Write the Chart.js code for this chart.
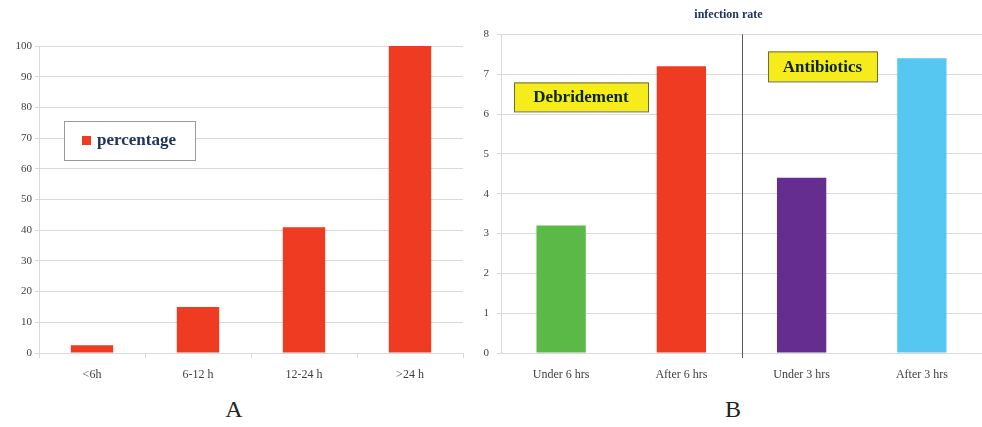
<!DOCTYPE html>
<html>
<head>
<meta charset="utf-8">
<script src="https://cdn.jsdelivr.net/npm/chart.js@4"></script>
<style>
  body { margin: 0; background: #fff; width: 982px; height: 427px; overflow: hidden; position: relative; }
  .box { position: absolute; top: 0; height: 390px; }
  #boxA { left: 0; width: 475px; }
  #boxB { left: 475px; width: 507px; }
  .panel { position: absolute; top: 396px; font: 24px 'Liberation Serif', serif; color: #222; transform: translateX(-50%); }
</style>
</head>
<body>
<div class="box" id="boxA"><canvas id="chartA"></canvas></div>
<div class="box" id="boxB"><canvas id="chartB"></canvas></div>
<div class="panel" style="left:234px">A</div>
<div class="panel" style="left:733px">B</div>
<script>
// panel A: infection percentage by delay
var delayLabels = ['<6h', '6-12 h', '12-24 h', '>24 h'];
var percentValues = [2.5, 15, 41, 100];

// panel B: infection rate by timing of debridement / antibiotics
var timingLabels = ['Under 6 hrs', 'After 6 hrs', 'Under 3 hrs', 'After 3 hrs'];
var rateValues = [3.2, 7.2, 4.4, 7.4];
var rateColors = ['#5bb947', '#ee3b22', '#652d90', '#56c7f1'];

var gridColor = '#d9d9d9';
var tickColor = '#404040';
Chart.defaults.font.family = "'Liberation Serif', serif";
Chart.defaults.color = tickColor;

// legend box drawn inside the plot of panel A
var legendBoxPlugin = {
    id: 'legendBox',
    afterDraw: function (chart) {
        var ctx = chart.ctx, a = chart.chartArea;
        var x = a.left + 25, y = a.top + 75;
        ctx.save();
        ctx.fillStyle = '#fff';
        ctx.fillRect(x, y, 131, 39);
        ctx.strokeStyle = '#9a9a9a';
        ctx.lineWidth = 1;
        ctx.strokeRect(x + 0.5, y + 0.5, 131, 39);
        ctx.fillStyle = chart.data.datasets[0].backgroundColor;
        ctx.fillRect(x + 18, y + 15, 9, 9);
        ctx.fillStyle = '#1f3360';
        ctx.font = "bold 17px 'Liberation Serif', serif";
        ctx.textBaseline = 'middle';
        ctx.fillText(chart.data.datasets[0].label, x + 33, y + 20);
        ctx.restore();
    }
};

// separator line and yellow group labels for panel B
var groupPlugin = {
    id: 'groups',
    afterDraw: function (chart) {
        var ctx = chart.ctx, a = chart.chartArea, xs = chart.scales.x;
        var sep = Math.round((xs.getPixelForValue(1) + xs.getPixelForValue(2)) / 2) + 0.5;
        ctx.save();
        ctx.strokeStyle = '#5a5a5a';
        ctx.lineWidth = 1;
        ctx.beginPath();
        ctx.moveTo(sep, a.top);
        ctx.lineTo(sep, a.bottom + 5);
        ctx.stroke();

        function tag(text, x, y, w, h) {
            ctx.fillStyle = '#f6ec1b';
            ctx.fillRect(x, y, w, h);
            ctx.strokeStyle = '#6b6a3a';
            ctx.strokeRect(x + 0.5, y + 0.5, w, h);
            ctx.fillStyle = '#0b2410';
            ctx.font = "bold 17px 'Liberation Serif', serif";
            ctx.textAlign = 'center';
            ctx.textBaseline = 'middle';
            ctx.fillText(text, x + w / 2, y + h / 2 + 1);
        }
        tag('Debridement', a.left + 13, a.top + 48, 134, 29);
        tag('Antibiotics', a.left + 267, a.top + 17, 109, 30);
        ctx.restore();
    }
};

new Chart(document.getElementById('chartA'), {
    type: 'bar',
    data: {
        labels: delayLabels,
        datasets: [{
            label: 'percentage',
            data: percentValues,
            backgroundColor: '#ee3b22',
            barPercentage: 0.4,
            categoryPercentage: 1
        }]
    },
    options: {
        responsive: true,
        maintainAspectRatio: false,
        animation: false,
        layout: { padding: { top: 46, right: 12, left: 0, bottom: 0 } },
        plugins: { legend: { display: false }, tooltip: { enabled: false } },
        scales: {
            x: {
                grid: { offset: true, drawOnChartArea: false, tickLength: 5, color: gridColor },
                border: { color: gridColor },
                ticks: { padding: 10, font: { size: 12 }, color: tickColor },
                afterFit: function (s) { s.height = 37; }
            },
            y: {
                min: 0, max: 100,
                ticks: { stepSize: 10, padding: 3, font: { size: 11 }, color: tickColor },
                grid: { color: gridColor, tickLength: 4 },
                border: { color: gridColor },
                afterFit: function (s) { s.width = 39; }
            }
        }
    },
    plugins: [legendBoxPlugin]
});

new Chart(document.getElementById('chartB'), {
    type: 'bar',
    data: {
        labels: timingLabels,
        datasets: [{
            label: 'infection rate',
            data: rateValues,
            backgroundColor: rateColors,
            barPercentage: 0.41,
            categoryPercentage: 1
        }]
    },
    options: {
        responsive: true,
        maintainAspectRatio: false,
        animation: false,
        layout: { padding: { top: 0, right: 0, left: 0, bottom: 0 } },
        plugins: {
            legend: { display: false },
            tooltip: { enabled: false },
            title: {
                display: true,
                text: 'infection rate',
                color: '#1f3360',
                font: { size: 12, weight: 'bold', lineHeight: 1.2 },
                padding: { top: 8, bottom: 12 }
            }
        },
        scales: {
            x: {
                grid: { display: false },
                border: { color: gridColor },
                ticks: { padding: 7, font: { size: 12 }, color: tickColor },
                afterFit: function (s) { s.height = 37; }
            },
            y: {
                min: 0, max: 8,
                ticks: { stepSize: 1, padding: 8, font: { size: 11 }, color: tickColor },
                grid: { color: gridColor, tickLength: 4 },
                border: { color: gridColor },
                afterFit: function (s) { s.width = 26; }
            }
        }
    },
    plugins: [groupPlugin]
});
</script>
</body>
</html>
